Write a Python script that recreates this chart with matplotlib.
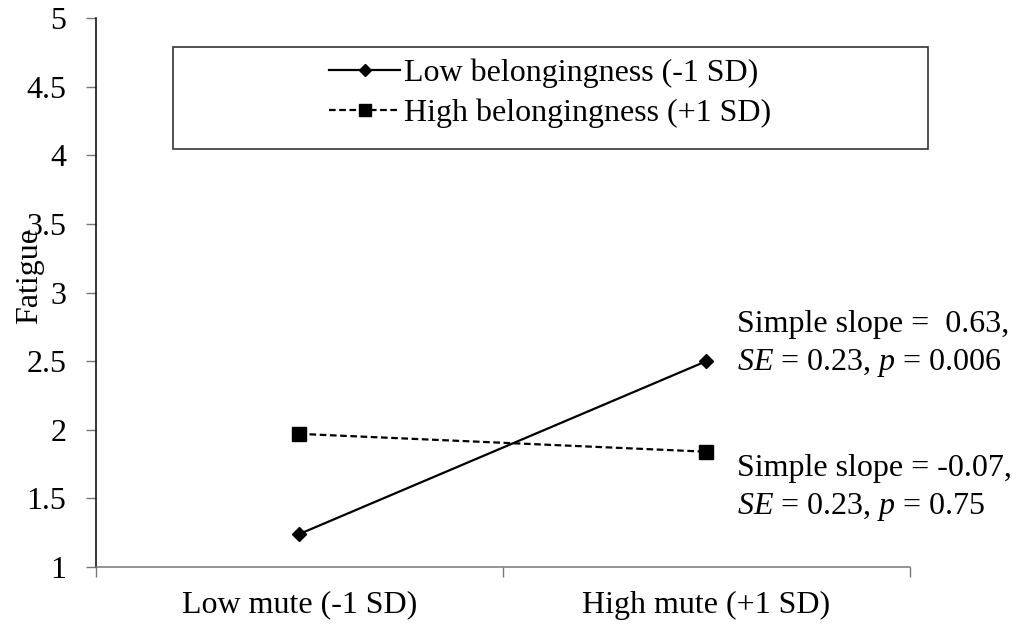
import numpy as np
import matplotlib
matplotlib.use("Agg")
import matplotlib.pyplot as plt
from matplotlib.patches import Rectangle

plt.rcParams["font.family"] = ["Liberation Serif", "DejaVu Serif"]
plt.rcParams["mathtext.fontset"] = "custom"
plt.rcParams["mathtext.rm"] = "Liberation Serif"
plt.rcParams["mathtext.it"] = "Liberation Serif:italic"

# ─── data ────────────────────────────────────────────────────────
categories = ["Low mute (-1 SD)", "High mute (+1 SD)"]
low_belong = [1.24, 2.50]
high_belong = [1.97, 1.84]
series_labels = ["Low belongingness (-1 SD)", "High belongingness (+1 SD)"]
slope_notes = [
    "Simple slope =  0.63,\n$SE$ = 0.23, $p$ = 0.006",
    "Simple slope = -0.07,\n$SE$ = 0.23, $p$ = 0.75",
]
y_ticks = [1, 1.5, 2, 2.5, 3, 3.5, 4, 4.5, 5]
y_ticklabels = ["1", "1.5", "2", "2.5", "3", "3.5", "4", "4.5", "5"]

FS = 23
W, H = 1017, 626

fig = plt.figure(figsize=(W / 100, H / 100), dpi=100)
ax = fig.add_axes([95.7 / W, 59 / H, 814.3 / W, 549 / H])

x = np.arange(len(categories))
l1, = ax.plot(x, low_belong, color="black", lw=1.6, marker="D", ms=7.5,
              label=series_labels[0])
l2, = ax.plot(x, high_belong, color="black", lw=1.6, ls=(0, (3.0, 1.6)),
              marker="s", ms=10, label=series_labels[1])

ax.set_xlim(-0.5, 1.5)
ax.set_ylim(1, 5)
ax.set_yticks(y_ticks)
ax.set_yticklabels(y_ticklabels, fontsize=FS)
ax.set_xticks(x)
ax.set_xticklabels(categories, fontsize=FS)
ax.set_xticks([-0.5, 0.5, 1.5], minor=True)
ax.tick_params(axis="x", which="major", length=0, pad=17)
ax.tick_params(axis="x", which="minor", length=7, width=1, color="#777777",
               direction="out")
ax.tick_params(axis="y", length=7, width=1, color="#777777", pad=14)

for s in ("top", "right"):
    ax.spines[s].set_visible(False)
ax.spines["left"].set_color("black")
ax.spines["left"].set_linewidth(1.1)
ax.spines["bottom"].set_color("#777777")
ax.spines["bottom"].set_linewidth(1.1)

# label overlaps the 3.5 tick label, as in the original
ax.set_ylabel("Fatigue", fontsize=FS)
ax.yaxis.set_label_coords(-0.0635, 0.53)

# slope notes next to right-hand points
ax.text(0.788, 0.405, slope_notes[0], transform=ax.transAxes, fontsize=FS,
        ha="left", va="center", linespacing=1.32)
ax.text(0.788, 0.143, slope_notes[1], transform=ax.transAxes, fontsize=FS,
        ha="left", va="center", linespacing=1.32)

# legend with separate frame box
fig.legend(handles=[l1, l2], loc="center",
           bbox_to_anchor=(550.5 / W, 1 - 93.5 / H), frameon=False,
           fontsize=FS, handlelength=2.2, handletextpad=0.15,
           labelspacing=0.32, markerscale=0.85)
fig.patches.append(Rectangle((173 / W, 1 - 148.5 / H), 755 / W, 102 / H,
                             transform=fig.transFigure, fill=False,
                             edgecolor="#333333", lw=1.2))

fig.savefig("out.png", dpi=100)
